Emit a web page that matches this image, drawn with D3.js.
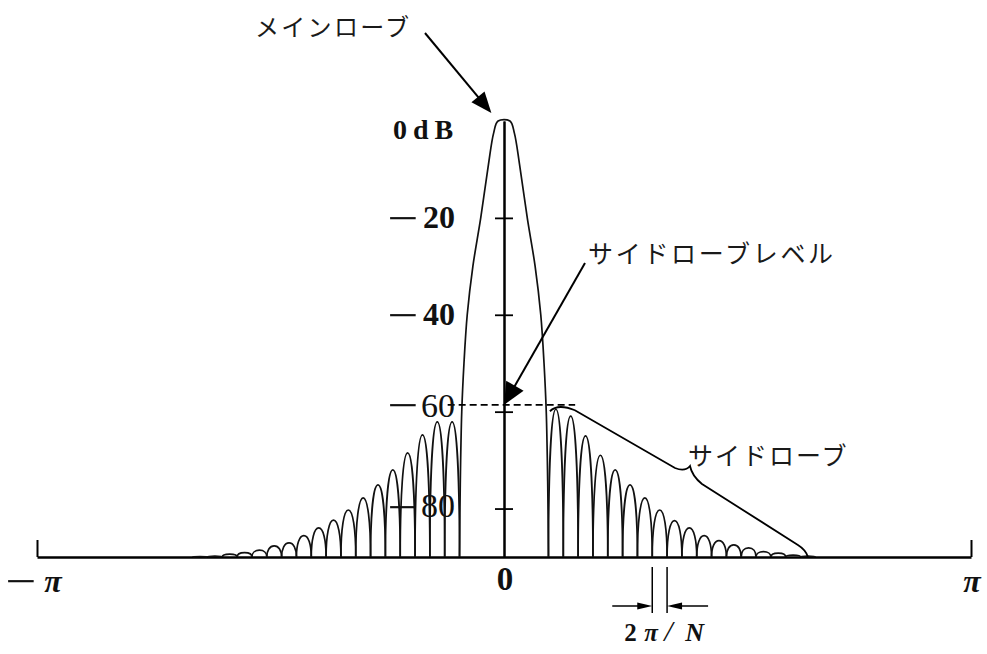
<!DOCTYPE html>
<html>
<head>
<meta charset="utf-8">
<script src="https://cdn.jsdelivr.net/npm/d3@7"></script>
<style>
  html, body { margin: 0; padding: 0; background: #fff; }
  svg { display: block; }
  .serif { font-family: "Liberation Serif", "DejaVu Serif", serif; fill: #111; }
  .jp { font-family: "Noto Sans CJK JP", sans-serif; fill: #1a1a1a; }
</style>
</head>
<body>
<svg id="chart" width="987" height="654"></svg>
<script>
// Magnitude spectrum (dB) of an N-point window over normalized frequency -π..π
const N = 63;                 // window length -> bin spacing 2π/N
const floorDb = -90;          // plot floor, drawn as the frequency axis
const sideLobeLevel = -58.6;  // highest sidelobe, marked with a dashed line

// Main lobe half-profile: offset from 0 in bins (units of 2π/N) and level in dB
const mainLobeBins = [0.4, 0.7, 1.05, 1.57, 2.1, 2.48, 2.7, 2.85, 2.95, 3.0];
const mainLobeDb   = [0, -2.5, -9, -20, -30, -40, -50, -60, -75, -90];
const mainLobeNull = 3;       // first null of the main lobe, in bins

// Sidelobe peak levels in dB, one per lobe, moving outward from the main lobe
const rightSideLobesDb = [-59.5, -60.9, -65.0, -69.0, -72.0, -75.1, -77.8, -80.3, -82.5,
                          -84.0, -85.6, -86.6, -87.5, -88.1, -88.9, -89.2, -89.6, -89.8];
const leftSideLobesDb  = [-62.1, -62.1, -64.8, -68.5, -72.0, -75.1, -77.8, -80.3, -82.4,
                          -84.0, -85.6, -87.1, -87.7, -88.6, -89.1, -89.4, -89.8, -89.9];

// Axis ticks and their labels
const yTickValues = [0, -20, -40, -60, -80];
const yTickLabels = ["0dB", "−20", "−40", "−60", "−80"];
const xTickValues = [-Math.PI, 0, Math.PI];
const xTickLabels = ["−π", "0", "π"];

// ---------------------------------------------------------------------------
const svg = d3.select("#chart");
const x = d3.scaleLinear().domain([-Math.PI, Math.PI]).range([37, 971]);
const y = d3.scaleLinear().domain([0, floorDb]).range([121, 557]);
const binW = 2 * Math.PI / N;
const xb = b => x(b * binW);
const x0 = x(0), yBase = y(floorDb);

// Frequency axis with the two end ticks at ±π
const xAxis = svg.append("g")
  .attr("transform", `translate(0,${yBase})`)
  .call(d3.axisBottom(x).tickValues([-Math.PI, Math.PI]).tickSize(-17).tickSizeOuter(0).tickFormat(""));
xAxis.select(".domain").attr("stroke", "#000").attr("stroke-width", 2.6);
xAxis.selectAll(".tick line").attr("stroke", "#000").attr("stroke-width", 2);

// Level axis at ω = 0, ticks crossing both sides
const yTicksOnly = yTickValues.filter(v => v !== 0);
const yAxisR = svg.append("g").attr("transform", `translate(${x0},0)`)
  .call(d3.axisRight(y).tickValues(yTicksOnly).tickSize(9).tickSizeOuter(0).tickFormat(""));
const yAxisL = svg.append("g").attr("transform", `translate(${x0},0)`)
  .call(d3.axisLeft(y).tickValues(yTicksOnly).tickSize(9).tickSizeOuter(0).tickFormat(""));
[yAxisR, yAxisL].forEach(g => {
  g.select(".domain").attr("stroke", "#000").attr("stroke-width", 2);
  g.selectAll(".tick line").attr("stroke", "#000").attr("stroke-width", 1.8);
});

// Main lobe
const mainPts = [];
for (let i = mainLobeBins.length - 1; i >= 0; i--) mainPts.push([-mainLobeBins[i], mainLobeDb[i]]);
for (let i = 0; i < mainLobeBins.length; i++) mainPts.push([mainLobeBins[i], mainLobeDb[i]]);
svg.append("path")
  .attr("d", d3.line().x(d => xb(d[0])).y(d => y(d[1])).curve(d3.curveCatmullRom.alpha(0.5))(mainPts))
  .attr("fill", "none").attr("stroke", "#111").attr("stroke-width", 1.7);

// One sidelobe as an arch between two nulls that sit on the floor
function lobePath(bA, bB, db) {
  const xa = xb(bA), xc = xb(bB), xm = (xa + xc) / 2, hw = (xc - xa) / 2;
  const yp = y(db), H = yBase - yp;
  return `M${xa},${yBase}C${xa},${yBase - 0.6 * H} ${xm - 0.6 * hw},${yp} ${xm},${yp}` +
         `C${xm + 0.6 * hw},${yp} ${xc},${yBase - 0.6 * H} ${xc},${yBase}`;
}
const lobes = [];
rightSideLobesDb.forEach((db, k) => lobes.push({ a: mainLobeNull + k, b: mainLobeNull + k + 1, db }));
leftSideLobesDb.forEach((db, k) => lobes.push({ a: -(mainLobeNull + k + 1), b: -(mainLobeNull + k), db }));
svg.append("g").selectAll("path").data(lobes).join("path")
  .attr("d", d => lobePath(d.a, d.b, d.db))
  .attr("fill", "none").attr("stroke", "#111").attr("stroke-width", 1.7);

// Sidelobe level (dashed)
svg.append("line")
  .attr("x1", xb(-3.8)).attr("x2", xb(4.8))
  .attr("y1", y(sideLobeLevel)).attr("y2", y(sideLobeLevel))
  .attr("stroke", "#000").attr("stroke-width", 1.6).attr("stroke-dasharray", "7 4");

// A long minus sign, drawn as a horizontally stretched glyph centred on (cx, barY)
function minusSign(cx, barY) {
  svg.append("text").attr("class", "serif")
    .attr("transform", `translate(${cx},${barY + 17}) scale(1.25,1)`)
    .attr("text-anchor", "middle").attr("font-size", 44).attr("font-weight", 400)
    .text("−");
}

// Level labels
const yLabelStyle = [
  { size: 28, weight: 700, dy: 18, spacing: 6 },
  { size: 32, weight: 700, dy: 10, minusDy: -2 },
  { size: 32, weight: 700, dy: 10, minusDy: -2 },
  { size: 34, weight: 400, dy: 5,  minusDy: -9 },
  { size: 34, weight: 400, dy: 8,  minusDy: -3.5 }
];
yTickValues.forEach((v, i) => {
  const st = yLabelStyle[i], lab = yTickLabels[i];
  const yy = y(v);
  if (lab.startsWith("−")) {
    minusSign(x0 - 101, yy + st.minusDy);
    svg.append("text").attr("class", "serif")
      .attr("x", x0 - 49).attr("y", yy + st.dy)
      .attr("text-anchor", "end").attr("font-size", st.size).attr("font-weight", st.weight)
      .text(lab.slice(1));
  } else {
    svg.append("text").attr("class", "serif")
      .attr("x", x0 - 111).attr("y", yy + st.dy)
      .attr("font-size", st.size).attr("font-weight", st.weight)
      .attr("letter-spacing", st.spacing)
      .text(lab);
  }
});

// Frequency labels
xTickValues.forEach((v, i) => {
  const lab = xTickLabels[i];
  const xx = x(v);
  if (lab === "−π") {
    minusSign(xx - 16, 579);
    svg.append("text").attr("class", "serif")
      .attr("x", xx + 16).attr("y", 592).attr("text-anchor", "middle")
      .attr("font-size", 32).attr("font-weight", 700).attr("font-style", "italic").text("π");
  } else if (lab === "π") {
    svg.append("text").attr("class", "serif")
      .attr("x", xx + 1).attr("y", 592).attr("text-anchor", "middle")
      .attr("font-size", 32).attr("font-weight", 700).attr("font-style", "italic").text(lab);
  } else {
    svg.append("text").attr("class", "serif")
      .attr("x", xx + 1).attr("y", 590).attr("text-anchor", "middle")
      .attr("font-size", 33).attr("font-weight", 700).text(lab);
  }
});

// Arrow helper: line plus filled head at the tip
function arrow(x1, y1, x2, y2, len, half, width) {
  const dx = x2 - x1, dy = y2 - y1, d = Math.hypot(dx, dy);
  const ux = dx / d, uy = dy / d, bx = x2 - ux * len, by = y2 - uy * len;
  svg.append("line").attr("x1", x1).attr("y1", y1).attr("x2", bx + ux * 2).attr("y2", by + uy * 2)
    .attr("stroke", "#000").attr("stroke-width", width);
  svg.append("path")
    .attr("d", `M${x2},${y2}L${bx - uy * half},${by + ux * half}L${bx + uy * half},${by - ux * half}Z`)
    .attr("fill", "#000");
}

// Main lobe annotation
svg.append("text").attr("class", "jp").attr("x", 255).attr("y", 36)
  .attr("font-size", 24).attr("letter-spacing", 2.3).text("メインローブ");
arrow(425, 33, xb(-0.85), y(0) - 8, 21, 8.5, 2);

// Sidelobe level annotation
svg.append("text").attr("class", "jp").attr("x", 588).attr("y", 263)
  .attr("font-size", 25).attr("letter-spacing", 2.7).text("サイドローブレベル");
arrow(585, 263, x0, y(sideLobeLevel), 22, 10, 2);

// Sidelobe annotation with a brace spanning the right-hand sidelobes
svg.append("text").attr("class", "jp").attr("x", 688).attr("y", 465)
  .attr("font-size", 25).attr("letter-spacing", 2).text("サイドローブ");
{
  const px = xb(mainLobeNull + 0.5), py = y(rightSideLobesDb[0]);
  const cx = 690, cy = 466;
  const ex = xb(mainLobeNull + rightSideLobesDb.length - 0.5), ey = yBase;
  const d = `M${px - 6},${py + 2}Q${px + 2},${py - 6} ${px + 19},${py + 1}` +
            `L${cx - 15},${cy + 2}Q${cx - 5},${cy + 6} ${cx},${cy}` +
            `Q${cx + 2},${cy + 10} ${cx + 12},${cy + 18}` +
            `L${ex - 10},${ey - 12}Q${ex - 2},${ey - 7} ${ex},${ey}`;
  svg.append("path").attr("d", d).attr("fill", "none").attr("stroke", "#000").attr("stroke-width", 1.8);
}

// Bin spacing marker (2π/N) between two adjacent nulls
{
  const k = 7;
  const xa = xb(mainLobeNull + k), xc = xb(mainLobeNull + k + 1);
  [xa, xc].forEach(xx => svg.append("line")
    .attr("x1", xx).attr("x2", xx).attr("y1", yBase + 10).attr("y2", yBase + 56)
    .attr("stroke", "#000").attr("stroke-width", 1.5));
  const ya = yBase + 49;
  arrow(xa - 40, ya, xa, ya, 15, 3.5, 1.5);
  arrow(xc + 41, ya, xc, ya, 15, 3.5, 1.5);
  const t = svg.append("text").attr("class", "serif").attr("y", 641)
    .attr("font-size", 25).attr("font-weight", 700);
  t.append("tspan").attr("x", xa - 28).text("2");
  t.append("tspan").attr("x", xa - 8).attr("font-style", "italic").text("π");
  t.append("tspan").attr("x", xa + 12).attr("font-style", "italic").attr("font-weight", 400)
    .attr("font-size", 30).text("/");
  t.append("tspan").attr("x", xa + 33).attr("font-style", "italic")
    .attr("font-size", 26).text("N");
}
</script>
</body>
</html>
